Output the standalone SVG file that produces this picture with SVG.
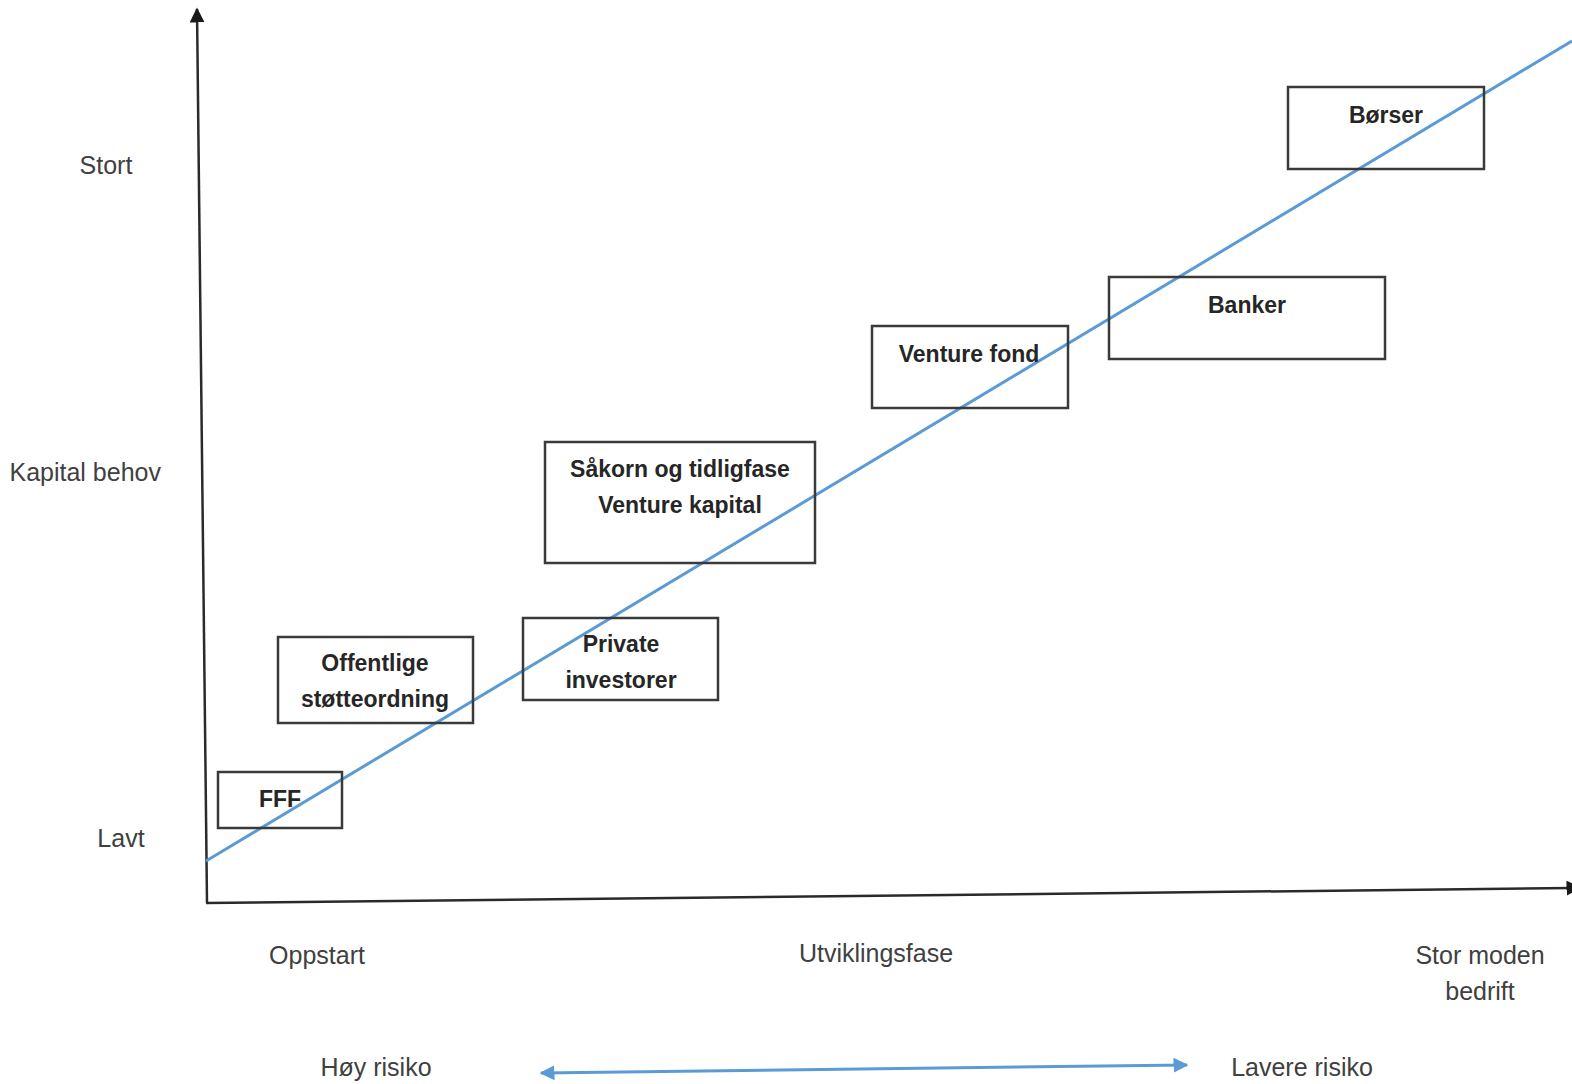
<svg xmlns="http://www.w3.org/2000/svg" width="1572" height="1084" viewBox="0 0 1572 1084">
<style>
.box{fill:none;stroke:#3a3a3a;stroke-width:2.5}
.bt{font-family:"Liberation Sans",Arial,sans-serif;font-weight:bold;font-size:23px;fill:#262626;text-anchor:middle}
.lb{font-family:"Liberation Sans",Arial,sans-serif;font-size:25px;fill:#404040}
.axis{stroke:#2a2a2a;stroke-width:2.5;fill:none}
.blue{stroke:#5b9bd5;stroke-width:3;fill:none}
</style>
<defs>
<marker id="ah" viewBox="0 0 10 10" refX="9" refY="5" markerWidth="6" markerHeight="6" orient="auto-start-reverse" markerUnits="strokeWidth">
<path d="M0,0 L10,5 L0,10 z" fill="#1a1a1a"/>
</marker>
<marker id="bh" viewBox="0 0 10 10" refX="9" refY="5" markerWidth="5" markerHeight="5" orient="auto-start-reverse" markerUnits="strokeWidth">
<path d="M0,0 L10,5 L0,10 z" fill="#5b9bd5"/>
</marker>
</defs>
<rect width="1572" height="1084" fill="#ffffff"/>
<g id="connectors">
<line class="axis" x1="207" y1="903" x2="197" y2="9" marker-end="url(#ah)"/>
<line class="axis" x1="206" y1="903" x2="1580" y2="888" marker-end="url(#ah)"/>
<line class="blue" x1="206" y1="861" x2="1572" y2="41"/>
<line class="blue" x1="541" y1="1073" x2="1187" y2="1065" marker-start="url(#bh)" marker-end="url(#bh)"/>
</g>
<g id="labels">
<text class="lb" x="106" y="174" text-anchor="middle">Stort</text>
<text class="lb" x="161" y="481" text-anchor="end">Kapital behov</text>
<text class="lb" x="121" y="847" text-anchor="middle">Lavt</text>
<text class="lb" x="317" y="964" text-anchor="middle">Oppstart</text>
<text class="lb" x="876" y="962" text-anchor="middle">Utviklingsfase</text>
<text class="lb" x="1480" y="964" text-anchor="middle">Stor moden</text>
<text class="lb" x="1480" y="1000" text-anchor="middle">bedrift</text>
<text class="lb" x="376" y="1076" text-anchor="middle">Høy risiko</text>
<text class="lb" x="1302" y="1076" text-anchor="middle">Lavere risiko</text>
</g>
<g id="node-fff">
<rect class="box" x="218" y="772" width="124" height="56"/>
<text class="bt" x="280" y="807">FFF</text>
</g>
<g id="node-offentlige">
<rect class="box" x="278" y="637" width="195" height="86"/>
<text class="bt" x="375" y="671">Offentlige</text>
<text class="bt" x="375" y="707">støtteordning</text>
</g>
<g id="node-private">
<rect class="box" x="523" y="618" width="195" height="82"/>
<text class="bt" x="621" y="652">Private</text>
<text class="bt" x="621" y="688">investorer</text>
</g>
<g id="node-sakorn">
<rect class="box" x="545" y="442" width="270" height="121"/>
<text class="bt" x="680" y="477">Såkorn og tidligfase</text>
<text class="bt" x="680" y="513">Venture kapital</text>
</g>
<g id="node-venturefond">
<rect class="box" x="872" y="326" width="196" height="82"/>
<text class="bt" x="969" y="362">Venture fond</text>
</g>
<g id="node-banker">
<rect class="box" x="1109" y="277" width="276" height="82"/>
<text class="bt" x="1247" y="313">Banker</text>
</g>
<g id="node-borser">
<rect class="box" x="1288" y="87" width="196" height="82"/>
<text class="bt" x="1386" y="123">Børser</text>
</g>
</svg>
